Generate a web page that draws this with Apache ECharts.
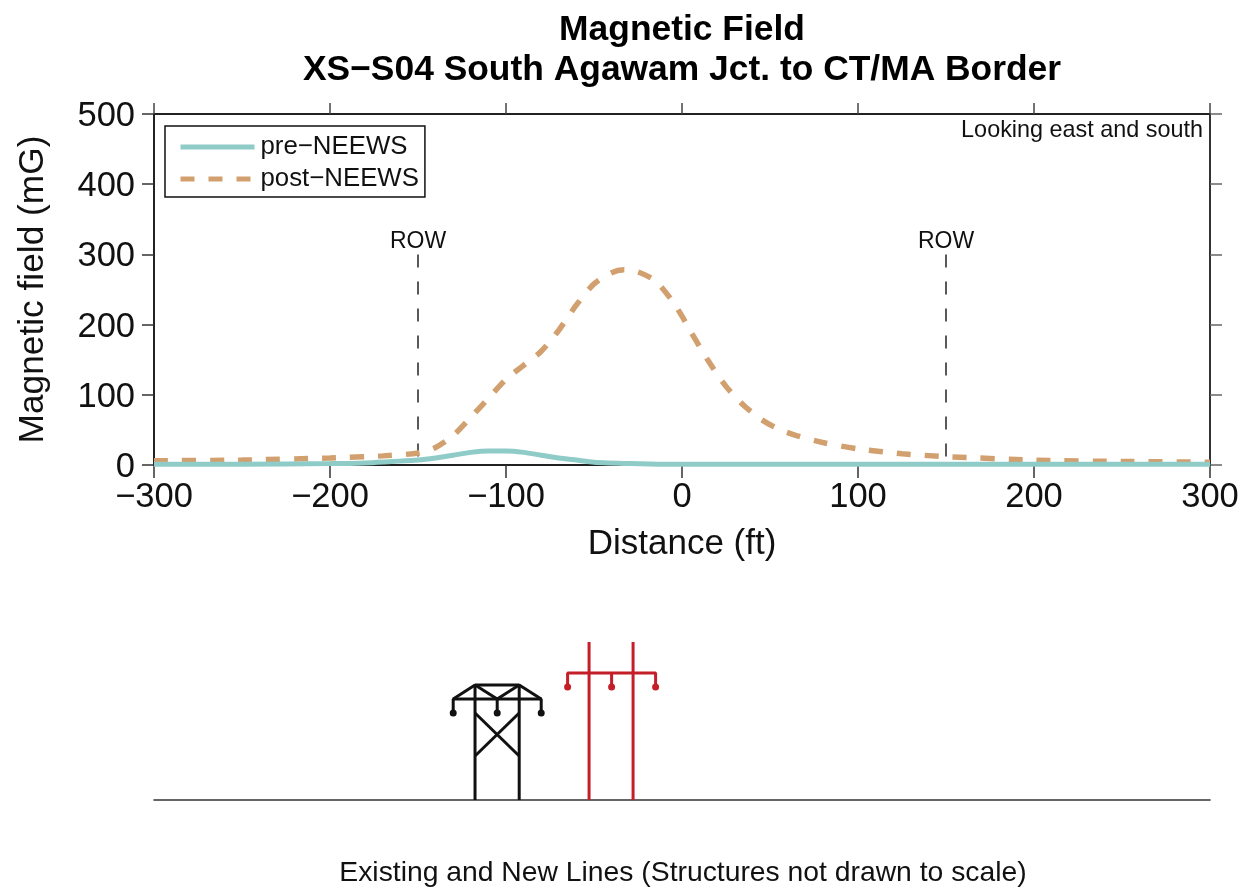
<!DOCTYPE html>
<html><head><meta charset="utf-8">
<style>html,body{margin:0;padding:0;background:#fff}#c{width:1252px;height:888px}</style>
<script src="https://cdn.jsdelivr.net/npm/echarts@6/dist/echarts.min.js"></script>
</head><body><div id="c"></div>
<script>
const preNeews = [[-300,1],[-250,1],[-200,2],[-180,3],[-165,5],[-150,7],[-140,10],[-130,14],[-120,18],[-110,20],[-100,20],[-90,18],[-80,14],[-70,10],[-60,7],[-50,4],[-30,2],[-10,1],[50,1],[150,1],[300,1]];
const postNeews = [[-300,6],[-250,7],[-200,10],[-170,13],[-150,17],[-140,25],[-130,42],[-120,68],[-110,95],[-100,122],[-90,142],[-80,162],[-70,192],[-60,228],[-50,258],[-40,274],[-33,278],[-25,275],[-15,262],[-5,232],[0,212],[5,190],[15,148],[25,112],[35,85],[45,65],[55,51],[65,42],[80,32],[100,23],[125,16],[150,12],[200,7],[250,5],[300,4]];
const rowLeft = [[-150,300],[-150,0]];
const rowRight = [[150,300],[150,0]];
const rowLabels = [[-150,300],[150,300]];
const xTicks = [-300,-200,-100,0,100,200,300];
const yTicks = [0,100,200,300,400,500];
const titleLines = 'Magnetic Field\nXS\u2212S04 South Agawam Jct. to CT/MA Border';
const seriesNames = ['pre\u2212NEEWS','post\u2212NEEWS'];
// structure schematic: distance (ft), height above ground
const blackFrame = [[-117.6,0],[-117.6,115],[-92.5,115],[-92.5,0]];
const blackArm = [[-130,87],[-130,101],[-80,101],[-80,87]];
const blackBraceA = [[-117.6,115],[-130,101]];
const blackBraceB = [[-92.5,115],[-80,101]];
const blackBraceC = [[-117.6,115],[-105,101]];
const blackBraceD = [[-92.5,115],[-105,101]];
const blackCrossA = [[-117.6,87],[-92.5,44]];
const blackCrossB = [[-92.5,87],[-117.6,44]];
const blackMid = [[-105,101],[-105,87]];
const blackInsul = [[-130,87],[-105,87],[-80,87]];
const redPoleA = [[-52.8,0],[-52.8,158]];
const redPoleB = [[-27.8,0],[-27.8,158]];
const redArm = [[-65,113],[-65,127],[-15,127],[-15,113]];
const redMid = [[-40,127],[-40,113]];
const redInsul = [[-65,113],[-40,113],[-15,113]];

const FONT = 'Liberation Sans';
const minus = v => String(v).replace('-','\u2212');
const struct = (d,color,w) => ({type:'line',xAxisIndex:2,yAxisIndex:2,data:d,symbol:'none',silent:true,lineStyle:{color,width:w||3,cap:'butt'},z:5});
const insul = (d,color) => ({type:'scatter',xAxisIndex:2,yAxisIndex:2,data:d,symbolSize:7,itemStyle:{color,opacity:1},silent:true,z:6});
const rowSeries = d => ({type:'line',xAxisIndex:0,yAxisIndex:0,data:d,symbol:'none',silent:true,lineStyle:{color:'#222',width:1.5,type:[13,14],cap:'butt'},z:3});

const option = {
  animation:false,
  backgroundColor:'#fff',
  textStyle:{fontFamily:FONT},
  title:[
    {text:titleLines,left:677,top:5,textAlign:'center',textStyle:{fontFamily:FONT,fontSize:35.4,fontWeight:'bold',color:'#000',lineHeight:40}},
    {text:'Looking east and south',right:44,top:114,textStyle:{fontFamily:FONT,fontSize:23.4,fontWeight:'normal',color:'#111'}},
    {text:'Existing and New Lines (Structures not drawn to scale)',left:678,top:854,textAlign:'center',textStyle:{fontFamily:FONT,fontSize:28.3,fontWeight:'normal',color:'#111'}}
  ],
  legend:{left:165,top:126,orient:'vertical',data:seriesNames,itemWidth:74,itemHeight:5,itemGap:6,padding:[8,6,5,13],
    borderColor:'#111',borderWidth:1.5,backgroundColor:'#fff',
    itemStyle:{opacity:0},
    lineStyle:{width:5,cap:'butt'},
    textStyle:{fontFamily:FONT,fontSize:25.8,color:'#111',padding:[0,0,0,1]}},
  grid:[
    {left:154,width:1056,top:114,height:351},
    {left:154,width:1056,top:640,height:160}
  ],
  xAxis:[
    {type:'value',gridIndex:0,min:-300,max:300,interval:100,position:'bottom',
     name:'Distance (ft)',nameLocation:'middle',nameGap:62,nameTextStyle:{fontFamily:FONT,fontSize:35,color:'#111'},
     axisLine:{show:true,onZero:false,lineStyle:{color:'#222',width:2}},
     axisTick:{show:true,length:13,lineStyle:{color:'#333',width:1.5}},
     axisLabel:{fontFamily:FONT,fontSize:34.5,color:'#111',margin:15,formatter:minus,customValues:xTicks},
     splitLine:{show:false}},
    {type:'value',gridIndex:0,min:-300,max:300,interval:100,position:'top',
     axisLine:{show:true,onZero:false,lineStyle:{color:'#222',width:2}},
     axisTick:{show:true,length:11,lineStyle:{color:'#444',width:1.5}},
     axisLabel:{show:false},splitLine:{show:false}},
    {type:'value',gridIndex:1,min:-300,max:300,position:'bottom',
     axisLine:{show:true,onZero:false,lineStyle:{color:'#333',width:1.6}},
     axisTick:{show:false},axisLabel:{show:false},splitLine:{show:false}}
  ],
  yAxis:[
    {type:'value',gridIndex:0,min:0,max:500,interval:100,position:'left',
     name:'Magnetic field (mG)',nameLocation:'middle',nameGap:103,nameRotate:90,nameTextStyle:{fontFamily:FONT,fontSize:35.3,color:'#111'},
     axisLine:{show:true,onZero:false,lineStyle:{color:'#222',width:2}},
     axisTick:{show:true,length:12,lineStyle:{color:'#333',width:1.5}},
     axisLabel:{fontFamily:FONT,fontSize:34.5,color:'#111',margin:19,customValues:yTicks,verticalAlign:'top',padding:[-15,0,0,0]},
     splitLine:{show:false}},
    {type:'value',gridIndex:0,min:0,max:500,interval:100,position:'right',
     axisLine:{show:true,onZero:false,lineStyle:{color:'#333',width:2}},
     axisTick:{show:true,length:12,lineStyle:{color:'#666',width:1.5}},
     axisLabel:{show:false},splitLine:{show:false}},
    {type:'value',gridIndex:1,min:0,max:160,show:false}
  ],
  series:[
    rowSeries(rowLeft),rowSeries(rowRight),
    {type:'scatter',xAxisIndex:0,yAxisIndex:0,data:rowLabels,symbolSize:1,itemStyle:{color:'transparent',opacity:1},silent:true,z:3,
     label:{show:true,position:'top',distance:1,formatter:'ROW',fontFamily:FONT,fontSize:23,color:'#111'}},
    {name:seriesNames[1],type:'line',xAxisIndex:0,yAxisIndex:0,data:postNeews,symbol:'none',smooth:0.25,clip:false,color:'#D2A06E',lineStyle:{color:'#D2A06E',width:5.5,type:[14,14],dashOffset:0,cap:'butt'},z:4},
    {name:seriesNames[0],type:'line',xAxisIndex:0,yAxisIndex:0,data:preNeews,symbol:'none',smooth:0.25,clip:false,color:'#8FCCC8',lineStyle:{color:'#8FCCC8',width:5,cap:'butt'},z:5},
    struct(blackFrame,'#111'),struct(blackArm,'#111'),
    struct(blackBraceA,'#111'),struct(blackBraceB,'#111'),struct(blackBraceC,'#111'),struct(blackBraceD,'#111'),
    struct(blackCrossA,'#111'),struct(blackCrossB,'#111'),struct(blackMid,'#111'),insul(blackInsul,'#111'),
    struct(redPoleA,'#C41E28'),struct(redPoleB,'#C41E28'),struct(redArm,'#C41E28'),struct(redMid,'#C41E28'),insul(redInsul,'#C41E28')
  ]
};
const chart = echarts.init(document.getElementById('c'),null,{renderer:'canvas'});
chart.setOption(option);
</script></body></html>
